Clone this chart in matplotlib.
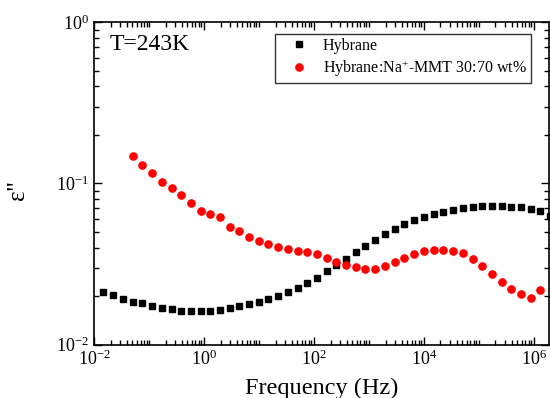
import numpy as np
import matplotlib
matplotlib.use("Agg")
import matplotlib.pyplot as plt
from matplotlib.ticker import LogLocator, NullFormatter

plt.rcParams['font.family'] = ['Liberation Serif', 'DejaVu Serif']
plt.rcParams['mathtext.fontset'] = 'custom'
plt.rcParams['mathtext.rm'] = 'Liberation Serif'
plt.rcParams['mathtext.it'] = 'Liberation Serif:italic'

# log10 of frequency (Hz)
log_freq = [-1.831, -1.649, -1.473, -1.296, -1.122, -0.945, -0.769, -0.587, -0.413, -0.236,
            -0.060, 0.115, 0.291, 0.467, 0.642, 0.818, 0.995, 1.169, 1.351, 1.533,
            1.704, 1.878, 2.055, 2.231, 2.405, 2.582, 2.758, 2.933, 3.109, 3.291,
            3.467, 3.642, 3.818, 4.000, 4.176, 4.351, 4.527, 4.704, 4.885, 5.060,
            5.236, 5.413, 5.587, 5.764, 5.940, 6.115, 6.290]
freq_hybrane = [10 ** v for v in log_freq]
eps_hybrane = [0.0213, 0.0203, 0.0192, 0.0184, 0.0182, 0.0174, 0.0169, 0.0166, 0.0162, 0.0162,
               0.0162, 0.0161, 0.0164, 0.0169, 0.0173, 0.0179, 0.0185, 0.0192, 0.0201, 0.0213,
               0.0225, 0.0242, 0.0261, 0.0285, 0.0310, 0.0341, 0.0374, 0.0409, 0.0448, 0.0486,
               0.0520, 0.0558, 0.0591, 0.0622, 0.0647, 0.0668, 0.0685, 0.0708, 0.0715, 0.0722,
               0.0725, 0.0722, 0.0718, 0.0712, 0.0695, 0.0678, 0.0631]

freq_mmt = freq_hybrane[3:46]
eps_mmt = [0.1476, 0.1309, 0.1167, 0.1026, 0.0942, 0.0852,
           0.0754, 0.0675, 0.0649, 0.0619, 0.0539, 0.0507, 0.0465, 0.0441, 0.0423,
           0.0402, 0.0392, 0.0383, 0.0374, 0.0363, 0.0346, 0.0327, 0.0310, 0.0302, 0.0296,
           0.0296, 0.0307, 0.0325, 0.0343, 0.0366, 0.0383, 0.0388, 0.0388, 0.0379, 0.0369,
           0.0338, 0.0309, 0.0274, 0.0244, 0.0220, 0.0205, 0.0195, 0.0217]

fig = plt.figure(figsize=(5.5, 3.98), dpi=100)
ax = fig.add_axes([0.171, 0.134, 0.827, 0.810])

ax.plot(freq_hybrane, eps_hybrane, ls='none', marker='s', ms=4.2, color='black',
        label='Hybrane')
ax.plot(freq_mmt, eps_mmt, ls='none', marker='o', ms=5.2, color='#ff0000', mec='#ff0000',
        label='Hybrane:Na$^{+}$-MMT 30:70 wt%')

ax.set_xscale('log')
ax.set_yscale('log')
ax.set_xlim(1e-2, 10 ** 6.273)
ax.set_ylim(1e-2, 1e0)

ax.xaxis.set_major_locator(LogLocator(base=100, numticks=20))
ax.xaxis.set_minor_locator(LogLocator(base=10, subs=np.arange(1, 10), numticks=20))
ax.xaxis.set_minor_formatter(NullFormatter())
ax.yaxis.set_minor_formatter(NullFormatter())

ax.tick_params(which='both', direction='in', top=True, right=True, labelsize=13)
ax.tick_params(which='major', length=6, width=1)
ax.tick_params(which='minor', length=3.5, width=1)

for s in ax.spines.values():
    s.set_linewidth(1.2)

ax.set_xlabel('Frequency (Hz)', fontsize=17.5, labelpad=6.5)
ax.set_ylabel("ε''", fontsize=18)
ax.yaxis.set_label_coords(-0.143, 0.48)

ax.text(0.035, 0.93, 'T=243K', transform=ax.transAxes, fontsize=17, va='center', ha='left')

leg = ax.legend(loc='upper right', bbox_to_anchor=(0.96, 0.965), fontsize=11.5,
                frameon=True, fancybox=False, edgecolor='black', handletextpad=0.25,
                borderpad=0.25, labelspacing=0.3, handlelength=2.5, borderaxespad=0)
leg.get_frame().set_linewidth(1.0)

fig.savefig('out.png', dpi=100)
